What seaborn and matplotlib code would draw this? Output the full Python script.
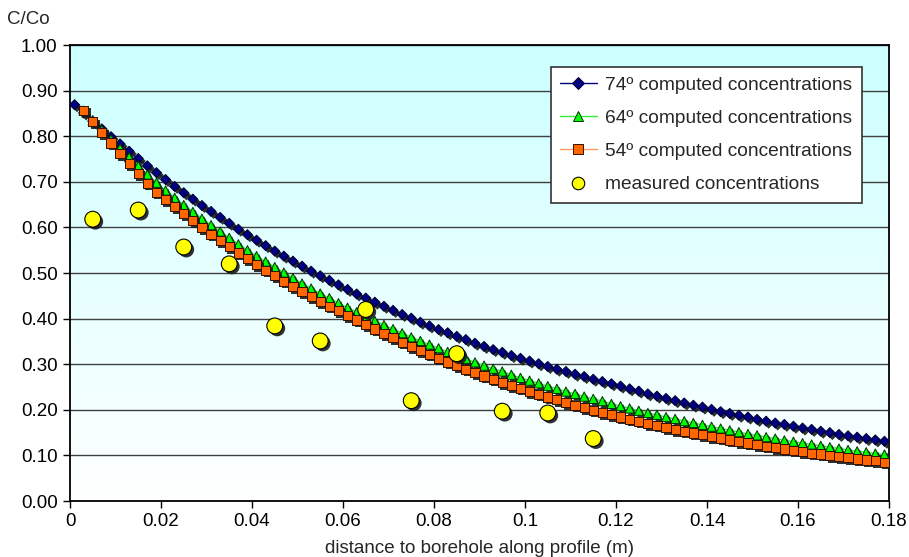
import numpy as np
import pandas as pd
import matplotlib
matplotlib.use("Agg")
import matplotlib.pyplot as plt
import matplotlib.patheffects as pe
from matplotlib.lines import Line2D
from matplotlib.colors import LinearSegmentedColormap
import seaborn as sns

# ---------------- data ----------------
distance = np.round(np.arange(0.001, 0.18, 0.002), 3)   # 0.001 ... 0.179 (90 positions)

c74 = [0.869, 0.851, 0.833, 0.816, 0.799, 0.783, 0.767, 0.751, 0.735, 0.720,
       0.705, 0.690, 0.676, 0.662, 0.648, 0.635, 0.622, 0.609, 0.596, 0.584,
       0.572, 0.560, 0.548, 0.537, 0.526, 0.515, 0.504, 0.494, 0.484, 0.474,
       0.464, 0.454, 0.445, 0.436, 0.427, 0.418, 0.409, 0.401, 0.392, 0.384,
       0.376, 0.369, 0.361, 0.354, 0.346, 0.339, 0.332, 0.326, 0.319, 0.313,
       0.307, 0.301, 0.295, 0.289, 0.284, 0.278, 0.273, 0.267, 0.262, 0.257,
       0.252, 0.246, 0.241, 0.235, 0.230, 0.225, 0.220, 0.215, 0.210, 0.206,
       0.201, 0.196, 0.192, 0.188, 0.184, 0.179, 0.175, 0.171, 0.168, 0.164,
       0.160, 0.157, 0.153, 0.150, 0.146, 0.143, 0.140, 0.137, 0.134, 0.131]

# 64 and 54 degree series start at the second position (0.003)
c64 = [0.856, 0.835, 0.814, 0.793, 0.773, 0.754, 0.735, 0.716, 0.698,
       0.681, 0.665, 0.649, 0.634, 0.619, 0.605, 0.591, 0.577, 0.563, 0.550,
       0.537, 0.525, 0.513, 0.501, 0.489, 0.477, 0.466, 0.455, 0.445, 0.434,
       0.424, 0.414, 0.404, 0.395, 0.386, 0.377, 0.368, 0.359, 0.351, 0.343,
       0.335, 0.327, 0.319, 0.312, 0.304, 0.297, 0.290, 0.284, 0.277, 0.270,
       0.264, 0.258, 0.252, 0.246, 0.240, 0.235, 0.229, 0.224, 0.219, 0.213,
       0.208, 0.203, 0.198, 0.193, 0.189, 0.184, 0.180, 0.175, 0.171, 0.167,
       0.163, 0.159, 0.155, 0.151, 0.147, 0.144, 0.140, 0.137, 0.133, 0.130,
       0.127, 0.124, 0.121, 0.118, 0.115, 0.112, 0.109, 0.107, 0.104, 0.102]

c54 = [0.857, 0.832, 0.808, 0.785, 0.762, 0.740, 0.718, 0.697, 0.677,
       0.661, 0.645, 0.630, 0.615, 0.600, 0.585, 0.571, 0.558, 0.544, 0.531,
       0.518, 0.506, 0.494, 0.482, 0.470, 0.459, 0.448, 0.437, 0.427, 0.417,
       0.407, 0.397, 0.387, 0.377, 0.367, 0.358, 0.348, 0.339, 0.330, 0.322,
       0.313, 0.305, 0.297, 0.289, 0.282, 0.274, 0.267, 0.260, 0.253, 0.247,
       0.240, 0.234, 0.228, 0.222, 0.216, 0.210, 0.205, 0.199, 0.194, 0.189,
       0.184, 0.179, 0.175, 0.170, 0.166, 0.161, 0.157, 0.153, 0.149, 0.145,
       0.141, 0.138, 0.134, 0.130, 0.127, 0.124, 0.120, 0.117, 0.114, 0.111,
       0.108, 0.105, 0.103, 0.100, 0.097, 0.095, 0.092, 0.090, 0.088, 0.085]

meas_x = [0.005, 0.015, 0.025, 0.035, 0.045, 0.055, 0.065, 0.075, 0.085, 0.095, 0.105, 0.115]
meas_y = [0.618, 0.638, 0.557, 0.520, 0.384, 0.351, 0.420, 0.220, 0.323, 0.197, 0.193, 0.137]

labels = ["74º computed concentrations", "64º computed concentrations",
          "54º computed concentrations", "measured concentrations"]

x_ticks = [0, 0.02, 0.04, 0.06, 0.08, 0.10, 0.12, 0.14, 0.16, 0.18]
x_tick_labels = ["0", "0.02", "0.04", "0.06", "0.08", "0.1", "0.12", "0.14", "0.16", "0.18"]
y_ticks = [0.0, 0.1, 0.2, 0.3, 0.4, 0.5, 0.6, 0.7, 0.8, 0.9, 1.0]
y_tick_labels = ["0.00", "0.10", "0.20", "0.30", "0.40", "0.50", "0.60", "0.70", "0.80", "0.90", "1.00"]

df74 = pd.DataFrame({"x": distance, "y": c74})
df64 = pd.DataFrame({"x": distance[1:], "y": c64})
df54 = pd.DataFrame({"x": distance[1:], "y": c54})
dfm = pd.DataFrame({"x": meas_x, "y": meas_y})

# ---------------- style ----------------
sns.set_style("ticks")
plt.rcParams["font.family"] = ["Liberation Sans", "DejaVu Sans"]
FS = 13.5
FS_LEG = 13.8

W, H = 909, 557
fig = plt.figure(figsize=(W / 100, H / 100), dpi=100)
L, R, T, B = 70, 889, 45, 501
ax = fig.add_axes([L / W, 1 - B / H, (R - L) / W, (B - T) / H])

# gradient plot-area background
cmap = LinearSegmentedColormap.from_list("bg", ["#CCFFFF", "#FFFFFF"])
ax.imshow(np.linspace(0, 1, 256).reshape(-1, 1), cmap=cmap, aspect="auto",
          extent=[0, 1, 0, 1], transform=ax.transAxes, zorder=0)

shadow = [pe.SimplePatchShadow(offset=(1.8, -1.8), shadow_rgbFace="#1a1a1a", alpha=0.9), pe.Normal()]

series = [
    (df74, "#000080", "#000080", "D", 26, "#000033"),
    (df64, "#33EE33", "#00FF00", "^", 44, "#003300"),
    (df54, "#FF9966", "#FF6600", "s", 44, "#331100"),
]
for df, lc, fc, mk, sz, ec in series:
    sns.lineplot(data=df, x="x", y="y", color=lc, lw=1, ax=ax, zorder=2)
    sns.scatterplot(data=df, x="x", y="y", marker=mk, s=sz, color=fc,
                    edgecolor=ec, linewidth=0.7, ax=ax, zorder=3)
    ax.collections[-1].set_path_effects(shadow)

sns.scatterplot(data=dfm, x="x", y="y", marker="o", s=130, color="#FFFF00",
                edgecolor="black", linewidth=0.8, ax=ax, zorder=4)
ax.collections[-1].set_path_effects(shadow)

ax.set_xlim(0, 0.18)
ax.set_ylim(0, 1.0)
ax.set_xticks(x_ticks)
ax.set_xticklabels(x_tick_labels)
ax.set_yticks(y_ticks)
ax.set_yticklabels(y_tick_labels)
ax.yaxis.grid(True, color="#404040", lw=1)
ax.set_axisbelow(True)
for sp in ax.spines.values():
    sp.set_visible(True)
    sp.set_color("black")
    sp.set_linewidth(1.3)
ax.tick_params(direction="out", length=5, width=1, labelsize=FS, colors="black", pad=4)
ax.set_xlabel("distance to borehole along profile (m)", fontsize=FS, labelpad=7)
ax.set_ylabel("")
fig.text(28 / W, 1 - 19 / H, "C/Co", fontsize=FS, ha="center", va="center")

handles = [
    Line2D([], [], color="#000080", lw=1, marker="D", markersize=6.0,
           markerfacecolor="#000080", markeredgecolor="#000033", markeredgewidth=0.7),
    Line2D([], [], color="#33EE33", lw=1, marker="^", markersize=7.5,
           markerfacecolor="#00FF00", markeredgecolor="#003300", markeredgewidth=0.7),
    Line2D([], [], color="#FF9966", lw=1, marker="s", markersize=6.8,
           markerfacecolor="#FF6600", markeredgecolor="#331100", markeredgewidth=0.7),
    Line2D([], [], ls="none", marker="o", markersize=9,
           markerfacecolor="#FFFF00", markeredgecolor="black", markeredgewidth=0.8),
]
leg = ax.legend(handles, labels, loc="upper right", bbox_to_anchor=(0.967, 0.952),
                frameon=True, fancybox=False, edgecolor="#333333", framealpha=1,
                fontsize=FS_LEG, handlelength=1.9, handletextpad=0.45, labelspacing=0.82,
                borderpad=0.5, borderaxespad=0)
leg.get_frame().set_linewidth(1.2)
leg.set_zorder(10)

fig.savefig("out.png", dpi=100)
